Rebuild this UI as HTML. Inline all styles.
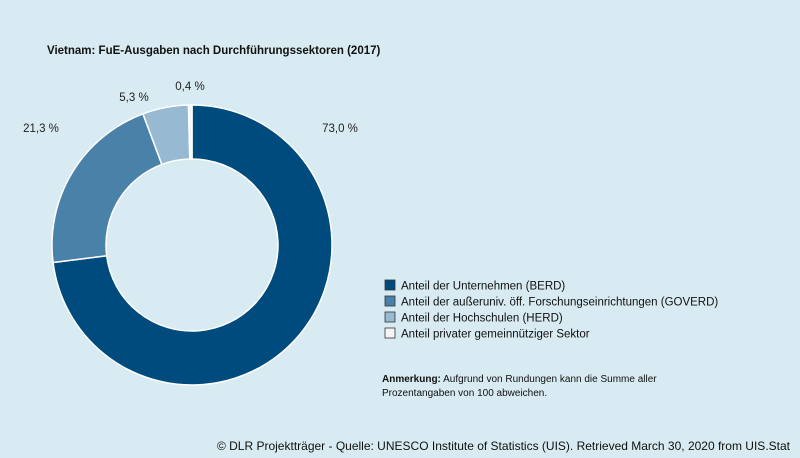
<!DOCTYPE html>
<html><head><meta charset="utf-8">
<style>
body{margin:0;width:800px;height:458px;background:#d8eaf2;overflow:hidden;font-family:"Liberation Sans",sans-serif;}
svg{display:block}
</style></head><body>
<svg width="800" height="458">
<rect width="800" height="458" fill="#d8eaf2"/>
<text x="47" y="54" font-size="11.5" font-weight="bold" fill="#111">Vietnam: FuE-Ausgaben nach Durchführungssektoren (2017)</text>
<g id="slices"></g>
<g id="labels"></g>
<g id="legend"></g>
<text x="382" y="382" font-size="10" fill="#111"><tspan font-weight="bold">Anmerkung:</tspan> Aufgrund von Rundungen kann die Summe aller</text>
<text x="382" y="396" font-size="10" fill="#111">Prozentangaben von 100 abweichen.</text>
<text x="790" y="450" font-size="12" fill="#111" text-anchor="end">© DLR Projektträger - Quelle: UNESCO Institute of Statistics (UIS). Retrieved March 30, 2020 from UIS.Stat</text>
</svg>
<script>
const categories=["Anteil der Unternehmen (BERD)","Anteil der außeruniv. öff. Forschungseinrichtungen (GOVERD)","Anteil der Hochschulen (HERD)","Anteil privater gemeinnütziger Sektor"];
const values=[73.0,21.3,5.3,0.4];
const valueLabels=["73,0 %","21,3 %","5,3 %","0,4 %"];
const colors=["#004b7e","#4a81a9","#97b9d2","#f2f4f5"];
const labelPos=[[340,132],[41,132],[134,101],[190,90]];
const NS="http://www.w3.org/2000/svg";
const cx=192,cy=245,R=140,r=86;
const total=values.reduce((a,b)=>a+b,0);
function pt(rad,a){return [cx+rad*Math.sin(a),cy-rad*Math.cos(a)];}
let acc=0;
const gs=document.getElementById('slices');
values.forEach((v,i)=>{
  const a0=acc/total*2*Math.PI; acc+=v; const a1=acc/total*2*Math.PI;
  const lg=(a1-a0)>Math.PI?1:0;
  const [x0,y0]=pt(R,a0),[x1,y1]=pt(R,a1),[x2,y2]=pt(r,a1),[x3,y3]=pt(r,a0);
  const p=document.createElementNS(NS,'path');
  p.setAttribute('d',`M${x0},${y0}A${R},${R} 0 ${lg} 1 ${x1},${y1}L${x2},${y2}A${r},${r} 0 ${lg} 0 ${x3},${y3}Z`);
  p.setAttribute('fill',colors[i]);p.setAttribute('stroke','#ffffff');p.setAttribute('stroke-width','1.5');
  
  
  gs.appendChild(p);
});
const gl=document.getElementById('labels');
valueLabels.forEach((t,i)=>{
  const e=document.createElementNS(NS,'text');
  e.setAttribute('x',labelPos[i][0]);e.setAttribute('y',labelPos[i][1]);
  e.setAttribute('text-anchor','middle');e.setAttribute('font-size','11.5');e.setAttribute('fill','#222');
  e.textContent=t;
  
  
  gl.appendChild(e);
});
const lgG=document.getElementById('legend');
categories.forEach((c,i)=>{
  const y=280+i*16;
  const b=document.createElementNS(NS,'rect');
  b.setAttribute('x',385);b.setAttribute('y',y);b.setAttribute('width',10);b.setAttribute('height',10);
  b.setAttribute('fill',colors[i]);b.setAttribute('stroke','#333');b.setAttribute('stroke-width','0.8');
  
  
  lgG.appendChild(b);
  const t=document.createElementNS(NS,'text');
  t.setAttribute('x',401);t.setAttribute('y',y+9.5);t.setAttribute('font-size','11.5');t.setAttribute('fill','#111');
  t.textContent=c;
  
  
  lgG.appendChild(t);
});
</script>
</body></html>
